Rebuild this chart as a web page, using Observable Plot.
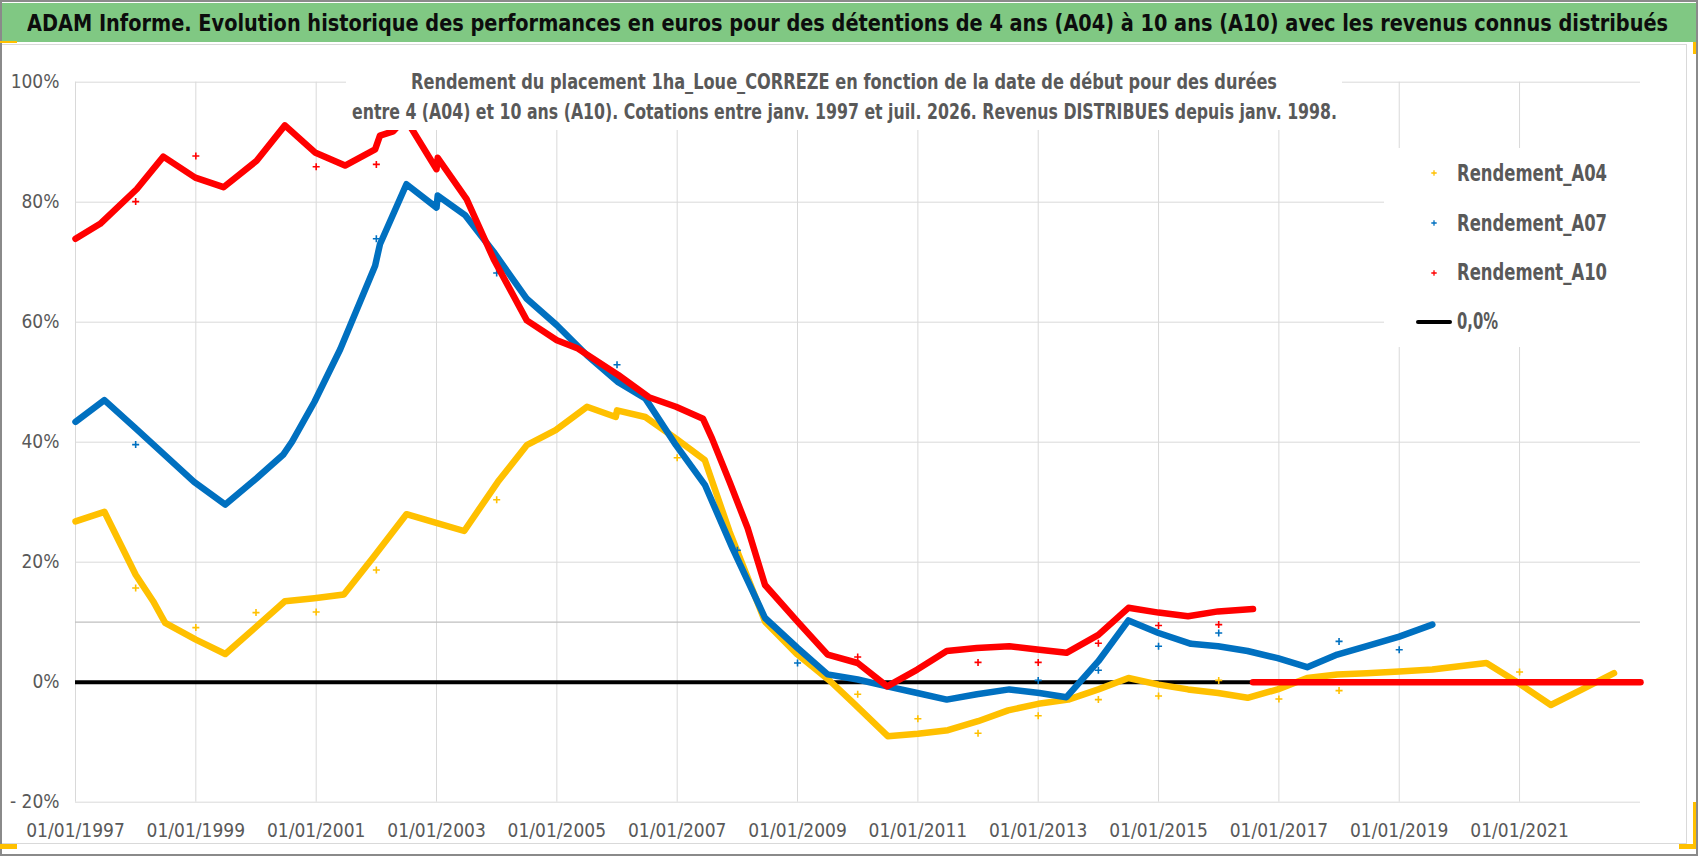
<!DOCTYPE html>
<html><head><meta charset="utf-8">
<script src="https://cdn.jsdelivr.net/npm/d3@7"></script>
<script src="https://cdn.jsdelivr.net/npm/@observablehq/plot@0.6"></script>
<style>
html,body{margin:0;padding:0;background:#fff;}
#page{position:relative;width:1698px;height:856px;overflow:hidden;background:#fff;font-family:"Liberation Sans Narrow","DejaVu Sans Condensed","Arial Narrow",sans-serif;}
#chart{position:absolute;left:0;top:0;}
.abs{position:absolute;}
.fit{position:absolute;white-space:nowrap;transform-origin:0 0;line-height:1;font-weight:bold;}
</style></head><body><div id="page"><div id="chart"></div></div>
<script>
// ---- data (decimal year, % return) ----
const a04Year  = [1997.0,1997.48,1998.0,1998.29,1998.49,1999.0,1999.49,2000.01,2000.48,2000.97,2001.46,2001.94,2002.5,2003.01,2003.46,2004.02,2004.5,2004.98,2005.5,2005.98,2006.0,2006.47,2006.98,2007.46,2007.87,2008.46,2009.0,2009.54,2009.9,2010.5,2011.0,2011.5,2012.0,2012.5,2013.0,2013.5,2014.0,2014.5,2015.0,2015.49,2015.99,2016.48,2016.98,2017.47,2017.97,2018.46,2019.0,2019.55,2020.45,2020.93,2021.52,2022.04,2022.57];
const a04Value = [26.8,28.4,17.9,13.5,9.9,7.1,4.7,9.3,13.5,14.0,14.6,20.7,28.0,26.5,25.2,33.4,39.5,42.0,45.9,44.2,45.3,44.2,40.6,37.0,25.1,10.1,4.6,0.2,-3.2,-9.0,-8.6,-8.0,-6.5,-4.7,-3.6,-2.9,-1.2,0.7,-0.4,-1.2,-1.8,-2.6,-1.2,0.7,1.3,1.5,1.8,2.1,3.2,0.2,-3.8,-1.2,1.5];

const a07Year  = [1997.0,1997.48,1998.0,1998.97,1999.49,2000.01,2000.45,2000.6,2000.97,2001.4,2001.98,2002.06,2002.5,2003.0,2003.02,2003.48,2003.95,2004.5,2005.0,2005.5,2006.02,2006.47,2006.98,2007.46,2007.92,2008.46,2009.0,2009.5,2010.0,2010.49,2010.99,2011.48,2011.98,2012.52,2013.02,2013.47,2014.0,2014.5,2015.0,2015.54,2015.99,2016.48,2016.98,2017.47,2017.97,2018.46,2019.0,2019.55];
const a07Value = [43.4,47.0,42.3,33.4,29.6,34.0,37.9,40.1,46.7,55.5,69.4,73.0,83.0,79.1,81.1,77.8,71.7,63.9,59.5,54.5,50.0,47.3,39.5,32.9,22.3,10.7,5.7,1.3,0.45,-0.7,-1.8,-2.9,-2.0,-1.2,-1.8,-2.5,3.5,10.3,8.2,6.4,6.0,5.2,4.0,2.5,4.6,6.0,7.6,9.6];

const a10Year  = [1997.0,1997.41,1998.02,1998.46,1998.99,1999.46,2000.01,2000.48,2000.98,2001.48,2001.98,2002.06,2002.28,2002.48,2003.0,2003.02,2003.5,2003.95,2004.5,2005.0,2005.35,2006.02,2006.53,2006.98,2007.43,2007.58,2007.87,2008.17,2008.46,2009.0,2009.5,2010.0,2010.49,2010.99,2011.48,2011.98,2012.52,2013.02,2013.47,2014.0,2014.5,2015.0,2015.49,2015.99,2016.57];
const a10Value = [73.9,76.4,82.2,87.6,84.1,82.5,86.9,92.8,88.3,86.1,88.8,91.1,91.8,94.0,85.5,87.4,80.5,70.5,60.3,57.0,55.6,51.2,47.5,45.9,43.9,40.6,33.4,25.7,16.2,10.1,4.6,3.2,-0.7,2.1,5.2,5.7,6.0,5.4,4.9,7.9,12.4,11.6,11.0,11.8,12.2];
const a10ZeroYear  = [2016.57,2023.01];
const a10ZeroValue = [0,0];

// isolated start-of-year points
const a04OutYear  = [1998,1999,2000,2001,2002,2004,2007,2008,2010,2011,2012,2013,2014,2015,2016,2017,2018,2021];
const a04OutValue = [15.7,9.1,11.6,11.7,18.7,30.4,37.4,21.9,-2.0,-6.1,-8.5,-5.6,-2.9,-2.3,0.3,-2.8,-1.4,1.7];
const a07OutYear  = [1998,2002,2004,2006,2008,2009,2013,2014,2015,2016,2018,2019];
const a07OutValue = [39.6,73.9,68.2,52.9,22.0,3.2,0.3,2.0,6.0,8.2,6.8,5.4];
const a10OutYear  = [1998,1999,2001,2002,2010,2012,2013,2014,2015,2016];
const a10OutValue = [80.1,87.7,85.9,86.3,4.2,3.3,3.3,6.5,9.45,9.6];

const xTicks = [1997,1999,2001,2003,2005,2007,2009,2011,2013,2015,2017,2019,2021];
const yTicks = [-20,0,20,40,60,80,100];
const seriesNames = ["Rendement_A04","Rendement_A07","Rendement_A10"];
const seriesColors = ["#FFC000","#0070C0","#FF0000"];
const zeroLabel = "0,0%";
const titleText = "ADAM Informe. Evolution historique des performances en euros pour des détentions de 4 ans (A04) à 10 ans (A10) avec les revenus connus distribués";
const subtitleLines = ["Rendement du placement 1ha_Loue_CORREZE en fonction de la date de début pour des durées",
  "entre 4 (A04) et 10 ans (A10). Cotations entre janv. 1997 et juil. 2026. Revenus DISTRIBUES depuis janv. 1998."];

const rows = (xs, ys, seg) => xs.map((x, i) => ({x, y: ys[i], seg}));
const a04 = rows(a04Year, a04Value, "a");
const a07 = rows(a07Year, a07Value, "a");
const a10 = rows(a10Year, a10Value, "a").concat(rows(a10ZeroYear, a10ZeroValue, "b"));
const a04o = rows(a04OutYear, a04OutValue), a07o = rows(a07OutYear, a07OutValue), a10o = rows(a10OutYear, a10OutValue);

const FONT = '"Liberation Sans Narrow","DejaVu Sans Condensed","Arial Narrow",sans-serif';
const lineOpts = (c) => ({x:"x", y:"y", z:"seg", stroke:c, strokeWidth:6.5, strokeLinejoin:"round", strokeLinecap:"round"});
const dotOpts = (c) => ({x:"x", y:"y", symbol:"plus", r:2.4, stroke:c, strokeWidth:1.6});

const chart = Plot.plot({
  width:1698, height:856,
  marginLeft:75, marginRight:58, marginTop:81.7, marginBottom:54.3,
  style:{background:"transparent", fontFamily:FONT, fontSize:"19px", color:"#595959"},
  x:{type:"linear", domain:[1997, 2023.01], ticks:xTicks, tickFormat:d=>`01/01/${d}`, label:null, tickSize:0, tickPadding:21},
  y:{type:"linear", domain:[-20, 100], ticks:yTicks, tickFormat:d=> d<0 ? `- ${-d}%` : `${d}%`, label:null, tickSize:0, tickPadding:16},
  marks:[
    Plot.ruleX(xTicks, {stroke:"#d9d9d9", strokeWidth:1}),
    Plot.ruleY(yTicks, {stroke:"#d9d9d9", strokeWidth:1}),
    Plot.ruleY([10], {stroke:"#bfbfbf", strokeWidth:1.2}),
    Plot.ruleY([0], {stroke:"#000", strokeWidth:4}),
    Plot.line(a04, lineOpts(seriesColors[0])),
    Plot.dot(a04o, dotOpts(seriesColors[0])),
    Plot.line(a07, lineOpts(seriesColors[1])),
    Plot.dot(a07o, dotOpts(seriesColors[1])),
    Plot.line(a10, lineOpts(seriesColors[2])),
    Plot.dot(a10o, dotOpts(seriesColors[2]))
  ]
});
document.getElementById("chart").appendChild(chart);

const page = document.getElementById("page");
function box(l, t, w, h, bg, extra) {
  const d = document.createElement("div");
  d.className = "abs";
  Object.assign(d.style, {left:l+"px", top:t+"px", width:w+"px", height:h+"px", background:bg}, extra || {});
  page.appendChild(d); return d;
}
function fitText(txt, left, centerY, fs, target, color) {
  const d = document.createElement("div");
  d.className = "fit";
  d.textContent = txt;
  Object.assign(d.style, {left:left+"px", top:(centerY - 0.49*fs)+"px", fontSize:fs+"px", color:color});
  page.appendChild(d);
  const w = d.getBoundingClientRect().width;
  if (w > 0) d.style.transform = `scaleX(${target / w})`;
  return d;
}

// subtitle box (white, covers plot)
box(346, 58, 996, 72, "#fff");
fitText(subtitleLines[0], 411, 81.7, 22, 866, "#595959");
fitText(subtitleLines[1], 352, 111.7, 22, 985, "#595959");

// legend box
box(1384, 148, 258, 199, "#fff");
const legY = [173.3, 223.3, 272.7];
seriesNames.forEach((n, i) => {
  const s = document.createElementNS("http://www.w3.org/2000/svg", "svg");
  s.setAttribute("width", 10); s.setAttribute("height", 10);
  s.style.position = "absolute"; s.style.left = (1434-5)+"px"; s.style.top = (legY[i]-5)+"px";
  s.innerHTML = `<path d="M2.3,5H7.7M5,2.3V7.7" stroke="${seriesColors[i]}" stroke-width="1.3"/>`;
  page.appendChild(s);
  fitText(n, 1457, legY[i], 23, 150, "#595959");
});
box(1416, 319.7, 36, 4, "#000", {borderRadius:"2px"});
fitText(zeroLabel, 1457, 321.7, 23, 41, "#595959");

// title bar
box(0, 3, 1698, 39, "#80c883");
fitText(titleText, 27, 23, 23, 1641, "#0d0d0d");

// frames and selection handles
box(1, 44, 1686, 800, "transparent", {border:"1px solid #d9d9d9", boxSizing:"border-box"});
box(0, 0, 1698, 856, "transparent", {border:"2px solid #8a8a8a", boxSizing:"border-box"});
box(0, 40.7, 17, 2.6, "#ffc000");
box(0, 844, 17, 5, "#ffc000");
box(1692.5, 802, 3.5, 47, "#ffc000");
box(1679, 843.5, 17, 5.5, "#ffc000");
box(1692.5, 42, 3.5, 12, "#ffc000");
</script></body></html>
